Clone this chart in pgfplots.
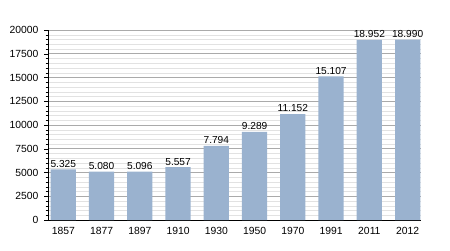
\documentclass[border=0pt]{standalone}
\usepackage{fontspec}
\setmainfont{Liberation Sans}
\usepackage{pgfplots}
\pgfplotsset{compat=1.18}
\usepackage{pgfplotstable}
\definecolor{barc}{RGB}{154,178,207}
\definecolor{majg}{RGB}{170,170,170}
\definecolor{ming}{RGB}{226,226,226}
\pgfplotstableread{
x y lab
0 5325 5.325
1 5080 5.080
2 5096 5.096
3 5557 5.557
4 7794 7.794
5 9289 9.289
6 11152 11.152
7 15107 15.107
8 18952 18.952
9 18990 18.990
}\data
\begin{document}
\begin{tikzpicture}[x=1bp,y=1bp]
\path (0,0) rectangle (450,250);
\begin{axis}[
  at={(48bp,30bp)}, anchor=south west,
  scale only axis, width=373bp, height=190bp,
  xmin=-0.4, xmax=9.35, ymin=0, ymax=20000,
  axis x line*=bottom, axis y line*=left,
  axis line style={black, line width=0.8pt},
  xtick=data, xticklabels={1857,1877,1897,1910,1930,1950,1970,1991,2011,2012},
  x tick style={draw=none},
  ytick={0,2500,...,20000}, minor y tick num=4,
  scaled y ticks=false,
  yticklabel={\pgfmathprintnumber[fixed,precision=0,1000 sep={}]{\tick}},
  ytick style={black}, tick align=outside,
  major tick length=4bp, minor tick length=2.5bp,
  ymajorgrids, yminorgrids,
  major grid style={majg, line width=0.6pt},
  minor grid style={ming, line width=0.5pt},
  /pgf/number format/1000 sep={},
  /pgf/number format/assume math mode=true,
  tick label style={font=\fontsize{10.4}{12}\selectfont},
  xticklabel style={yshift=0bp},
  yticklabel style={xshift=-2bp},
  enlargelimits=false,
  clip=false,
]
\addplot[ybar, bar width=0.66, fill=barc, draw=none,
  nodes near coords, point meta=explicit symbolic,
  every node near coord/.append style={font=\fontsize{10.2}{12}\selectfont, black, yshift=-1.5bp}]
  table[x=x, y=y, meta=lab]{\data};
\end{axis}
\end{tikzpicture}
\end{document}
